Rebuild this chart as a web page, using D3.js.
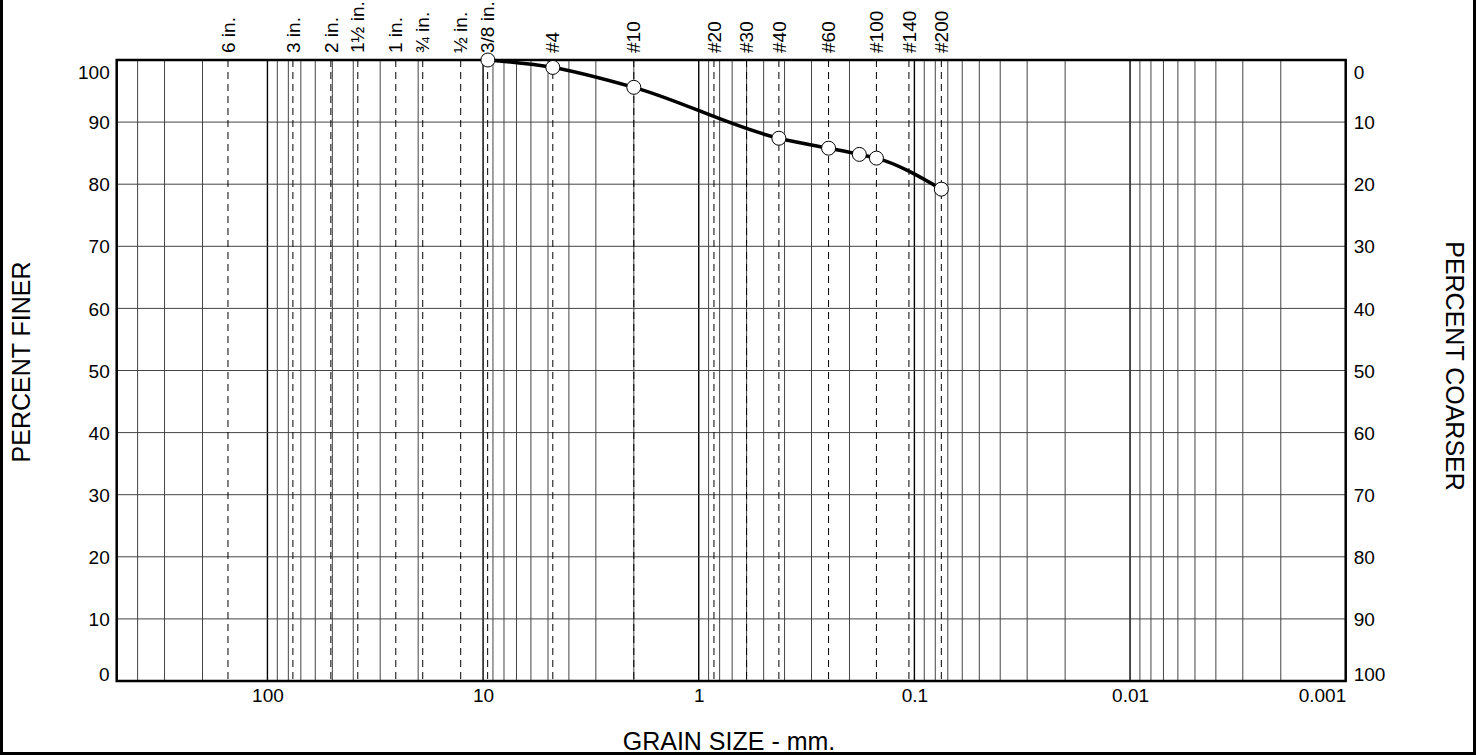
<!DOCTYPE html>
<html><head><meta charset="utf-8">
<script src="https://cdn.jsdelivr.net/npm/d3@7"></script>
<style>
html,body{margin:0;padding:0;background:#fff;}
svg{display:block;font-family:"Liberation Sans",Arial,sans-serif;}
</style></head>
<body>
<svg id="chart" width="1483" height="755"></svg>
<script>
// ---- data ----
const sampleSizes = [9.5, 4.75, 2.0, 0.425, 0.25, 0.18, 0.15, 0.075];
const percentFiner = [100, 98.8, 95.6, 87.4, 85.8, 84.8, 84.2, 79.2];
const sieveLabels = ["6 in.", "3 in.", "2 in.", "1½ in.", "1 in.", "¾ in.", "½ in.", "3/8 in.", "#4", "#10", "#20", "#30", "#40", "#60", "#100", "#140", "#200"];
const sieveSizes = [152.4, 76.2, 50.8, 38.1, 25.4, 19.05, 12.7, 9.525, 4.75, 2.0, 0.85, 0.6, 0.425, 0.25, 0.15, 0.106, 0.075];
const xTickValues = [100, 10, 1, 0.1, 0.01, 0.001];
const xTickLabels = ["100", "10", "1", "0.1", "0.01", "0.001"];
const yTickValues = [0, 10, 20, 30, 40, 50, 60, 70, 80, 90, 100];
const xDomain = [500, 0.001];

// ---- layout ----
const L = 116.7, R = 1345.7, T = 60, B = 681;
const svg = d3.select("#chart");
const x = d3.scaleLog().domain(xDomain).range([L, R]);
const y = d3.scaleLinear().domain([0, 100]).range([B, T]);
const yc = d3.scaleLinear().domain([0, 100]).range([T, B]);

// outer frame
svg.append("rect").attr("x", 1.5).attr("y", -10).attr("width", 1473).attr("height", 763.5)
  .attr("fill", "none").attr("stroke", "#000").attr("stroke-width", 3);

// vertical grid lines
const gridVals = [];
for (let e = -3; e <= 2; e++) {
  for (let k = 1; k <= 9; k++) {
    const v = k * Math.pow(10, e);
    if (v > 0.0011 && v < 499) gridVals.push({v, major: k === 1});
  }
}
svg.append("g").selectAll("line").data(gridVals).join("line")
  .attr("x1", d => x(d.v)).attr("x2", d => x(d.v))
  .attr("y1", T).attr("y2", B)
  .attr("stroke", d => d.major ? "#000" : "#444").attr("stroke-width", d => d.major ? 1.4 : 1);

// horizontal grid lines
svg.append("g").selectAll("line").data(yTickValues.filter(v => v > 0 && v < 100)).join("line")
  .attr("x1", L).attr("x2", R).attr("y1", d => y(d)).attr("y2", d => y(d))
  .attr("stroke", "#444").attr("stroke-width", 1);

// sieve dashed lines
svg.append("g").selectAll("line").data(sieveSizes).join("line")
  .attr("x1", d => x(d)).attr("x2", d => x(d)).attr("y1", T).attr("y2", B)
  .attr("stroke", "#000").attr("stroke-width", 1).attr("stroke-dasharray", "7,5");

// sieve labels
svg.append("g").selectAll("text").data(sieveSizes).join("text")
  .attr("transform", d => `translate(${x(d)},53) rotate(-90)`)
  .attr("text-anchor", "start").attr("dy", "0.35em")
  .attr("font-size", 19).text((d, i) => sieveLabels[i]);

// plot frame
svg.append("rect").attr("x", L).attr("y", T).attr("width", R - L).attr("height", B - T)
  .attr("fill", "none").attr("stroke", "#000").attr("stroke-width", 2.5);

// x axis
const xAxis = svg.append("g").attr("transform", `translate(0,${B})`)
  .call(d3.axisBottom(x).tickValues(xTickValues).tickSize(0).tickPadding(8)
    .tickFormat((d, i) => xTickLabels[i]));
xAxis.select(".domain").remove();
xAxis.selectAll("text").attr("font-size", 19).attr("font-family", "Liberation Sans, Arial, sans-serif")
  .attr("fill", "#000")
  .attr("text-anchor", (d, i) => i === xTickValues.length - 1 ? "end" : "middle");

// left y axis
const yAxisL = svg.append("g").attr("transform", `translate(${L},0)`)
  .call(d3.axisLeft(y).tickValues(yTickValues).tickSize(0).tickPadding(7));
yAxisL.select(".domain").remove();
yAxisL.selectAll("text").attr("font-size", 19).attr("font-family", "Liberation Sans, Arial, sans-serif")
  .attr("fill", "#000")
  .attr("dy", d => d === 100 ? "0.95em" : d === 0 ? "-0.05em" : "0.35em");

// right y axis (percent coarser)
const yAxisR = svg.append("g").attr("transform", `translate(${R},0)`)
  .call(d3.axisRight(yc).tickValues(yTickValues).tickSize(0).tickPadding(8));
yAxisR.select(".domain").remove();
yAxisR.selectAll("text").attr("font-size", 19).attr("font-family", "Liberation Sans, Arial, sans-serif")
  .attr("fill", "#000")
  .attr("dy", d => d === 0 ? "0.95em" : d === 100 ? "-0.05em" : "0.35em");

// curve
const pts = sampleSizes.map((s, i) => ({s, p: percentFiner[i]}));
const line = d3.line().x(d => x(d.s)).y(d => y(d.p)).curve(d3.curveMonotoneX);
svg.append("path").datum(pts).attr("d", line)
  .attr("fill", "none").attr("stroke", "#000").attr("stroke-width", 3.5);
svg.append("g").selectAll("circle").data(pts).join("circle")
  .attr("cx", d => x(d.s)).attr("cy", d => y(d.p)).attr("r", 7)
  .attr("fill", "#fff").attr("stroke", "#000").attr("stroke-width", 1);

// titles
svg.append("text").attr("x", 729).attr("y", 750).attr("text-anchor", "middle")
  .attr("font-size", 25).text("GRAIN SIZE - mm.");
svg.append("text").attr("transform", `translate(30,362) rotate(-90)`)
  .attr("text-anchor", "middle").attr("font-size", 25).text("PERCENT FINER");
svg.append("text").attr("transform", `translate(1446,366) rotate(90)`)
  .attr("text-anchor", "middle").attr("font-size", 25).text("PERCENT COARSER");
</script>
</body></html>
